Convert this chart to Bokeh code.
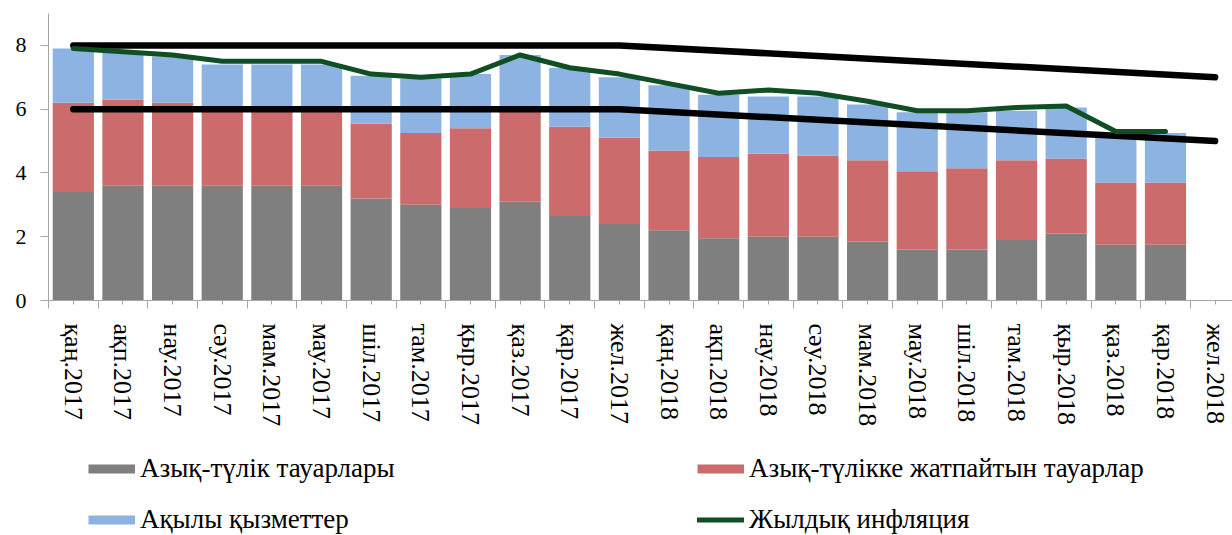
from bokeh.plotting import figure
from bokeh.layouts import column
from bokeh.models import Range1d, FixedTicker, Legend, LegendItem, ColumnDataSource
from bokeh.embed import file_html
from bokeh.resources import INLINE

months = ["қаң.2017", "ақп.2017", "нау.2017", "сәу.2017", "мам.2017", "мау.2017",
          "шіл.2017", "там.2017", "қыр.2017", "қаз.2017", "қар.2017", "жел.2017",
          "қаң.2018", "ақп.2018", "нау.2018", "сәу.2018", "мам.2018", "мау.2018",
          "шіл.2018", "там.2018", "қыр.2018", "қаз.2018", "қар.2018", "жел.2018"]

food = [3.4, 3.6, 3.6, 3.6, 3.6, 3.6, 3.2, 3.0, 2.9, 3.1, 2.65, 2.4,
        2.2, 1.95, 2.0, 2.0, 1.85, 1.6, 1.6, 1.9, 2.1, 1.75, 1.75]
nonfood = [2.8, 2.7, 2.6, 2.4, 2.4, 2.4, 2.35, 2.25, 2.5, 2.9, 2.8, 2.7,
           2.5, 2.55, 2.6, 2.55, 2.55, 2.45, 2.55, 2.5, 2.35, 1.95, 1.95]
services = [1.7, 1.5, 1.45, 1.4, 1.4, 1.4, 1.5, 1.7, 1.7, 1.7, 1.85, 1.9,
            2.05, 1.95, 1.8, 1.85, 1.75, 1.85, 1.75, 1.55, 1.6, 1.55, 1.55]
inflation = [7.9, 7.8, 7.7, 7.5, 7.5, 7.5, 7.1, 7.0, 7.1, 7.7, 7.3, 7.1,
             6.8, 6.5, 6.6, 6.5, 6.25, 5.95, 5.95, 6.05, 6.1, 5.3, 5.3]

corridor_months = ["қаң.2017", "жел.2017", "жел.2018"]
corridor_upper = [8, 8, 7]
corridor_lower = [6, 6, 5]

series_labels = ["Азық-түлік тауарлары", "Азық-түлікке жатпайтын тауарлар",
                 "Ақылы қызметтер", "Жылдық инфляция"]
yticks = [0, 2, 4, 6, 8]

C_FOOD = "#7f7f7f"
C_NONFOOD = "#cc6b6b"
C_SERV = "#8db3e2"
C_INFL = "#0f4f23"
FONT = "Liberation Serif"

n = len(food)
src = ColumnDataSource(dict(x=list(range(n)), food=food, nonfood=nonfood,
                            services=services, inflation=inflation))

p = figure(width=1232, height=430, x_range=Range1d(-0.5, 23.35), y_range=Range1d(0, 9),
           output_backend="svg", toolbar_location=None,
           min_border_left=48, min_border_right=0, min_border_top=13, min_border_bottom=130)
p.outline_line_color = None
p.xgrid.visible = False
p.ygrid.visible = False

p.vbar_stack(["food", "nonfood", "services"], x="x", width=0.83, source=src,
             fill_color=[C_FOOD, C_NONFOOD, C_SERV], line_color=None)

cx = [months.index(m) for m in corridor_months]
p.line(cx, corridor_upper, line_color="black", line_width=6.5, line_cap="round", line_join="round")
p.line(cx, corridor_lower, line_color="black", line_width=6.5, line_cap="round", line_join="round")

p.line("x", "inflation", source=src, line_color=C_INFL, line_width=5,
       line_cap="round", line_join="round")

ax = p.xaxis[0]
ax.ticker = FixedTicker(ticks=list(range(len(months))),
                        minor_ticks=[i - 0.5 for i in range(len(months) + 1)])
ax.major_label_overrides = {i: m for i, m in enumerate(months)}
ax.major_label_orientation = "vertical"
ax.major_label_text_font = FONT
ax.major_label_text_font_size = "26px"
ax.major_label_text_color = "black"
ax.major_label_standoff = 15
ax.major_tick_in = 0
ax.major_tick_out = 4
ax.minor_tick_in = 0
ax.minor_tick_out = 8
ax.axis_line_color = "#a6a6a6"
ax.major_tick_line_color = "#a6a6a6"
ax.minor_tick_line_color = "#a6a6a6"

ay = p.yaxis[0]
ay.ticker = FixedTicker(ticks=yticks)
ay.major_label_text_font = FONT
ay.major_label_text_font_size = "22px"
ay.major_label_text_color = "black"
ay.major_label_standoff = 14
ay.major_tick_in = 0
ay.major_tick_out = 8
ay.minor_tick_out = 0
ay.minor_tick_in = 0
ay.axis_line_color = "#a6a6a6"
ay.major_tick_line_color = "#a6a6a6"

# legend panel (separate blank figure below the chart)
q = figure(width=1232, height=105, x_range=Range1d(0, 1), y_range=Range1d(0, 1),
           output_backend="svg", toolbar_location=None, x_axis_type=None, y_axis_type=None,
           min_border_left=0, min_border_right=0, min_border_top=0, min_border_bottom=0)
q.outline_line_color = None
q.xgrid.visible = False
q.ygrid.visible = False

nan = float("nan")
sw_food = q.line([nan], [nan], line_color=C_FOOD, line_width=9, line_cap="butt")
sw_non = q.line([nan], [nan], line_color=C_NONFOOD, line_width=9, line_cap="butt")
sw_serv = q.line([nan], [nan], line_color=C_SERV, line_width=9, line_cap="butt")
sw_infl = q.line([nan], [nan], line_color=C_INFL, line_width=5, line_cap="round")


def make_legend(items, loc):
    return Legend(items=items, location=loc, orientation="vertical",
                  glyph_width=47, glyph_height=27, label_height=27, spacing=20,
                  label_standoff=5, padding=0, margin=0,
                  border_line_color=None, background_fill_color=None,
                  label_text_font=FONT, label_text_font_size="27px", label_text_color="black")


q.add_layout(make_legend([LegendItem(label=series_labels[0], renderers=[sw_food]),
                          LegendItem(label=series_labels[2], renderers=[sw_serv])], (40, 0)), "center")
q.add_layout(make_legend([LegendItem(label=series_labels[1], renderers=[sw_non]),
                          LegendItem(label=series_labels[3], renderers=[sw_infl])], (649, 0)), "center")

layout = column(p, q, spacing=0)
open("out.html", "w").write(file_html(layout, INLINE))
